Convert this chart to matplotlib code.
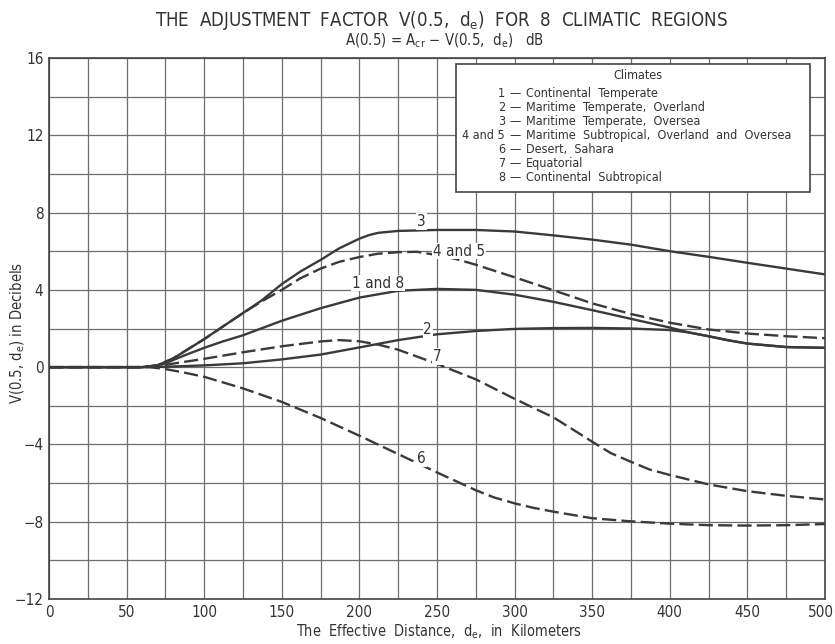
import matplotlib
matplotlib.use("Agg")
import matplotlib.pyplot as plt
import matplotlib.transforms as mtrans
from matplotlib import font_manager

# pick a condensed sans face if one is installed
cands = []
for f in font_manager.fontManager.ttflist:
    st = str(f.stretch).lower()
    fn = f.fname.lower()
    if f.style == 'normal' and f.weight in (400, 'normal', 'regular') and (
            'condensed' in st or 'narrow' in fn or 'condensed' in fn):
        cands.append(f)
FONT = "DejaVu Sans"
STRETCH = "normal"
pref = ["Liberation Sans Narrow", "DejaVu Sans", "Roboto Condensed", "Open Sans Condensed",
        "Noto Sans", "Open Sans", "Roboto"]
for p in pref:
    hit = [f for f in cands if f.name == p]
    if hit:
        FONT = p
        STRETCH = "condensed" if 'condensed' in str(hit[0].stretch).lower() else "normal"
        break
plt.rcParams['font.family'] = [FONT, 'DejaVu Sans']
plt.rcParams['font.stretch'] = STRETCH
plt.rcParams['mathtext.fontset'] = 'custom'
plt.rcParams['mathtext.rm'] = FONT
plt.rcParams['mathtext.it'] = FONT

# ---------------- data ----------------
x_c3 = [0, 50, 60, 70, 80, 90, 100, 112, 125, 137, 150, 162, 175, 187, 200, 206, 212, 225, 250, 275, 300, 325, 350, 375, 400, 425, 450, 475, 500]
v_c3 = [0, 0, 0, 0.1, 0.45, 0.95, 1.45, 2.1, 2.8, 3.45, 4.3, 4.95, 5.55, 6.15, 6.65, 6.83, 6.95, 7.05, 7.1, 7.1, 7.02, 6.82, 6.6, 6.34, 6.0, 5.71, 5.4, 5.1, 4.8]

x_c45 = [0, 50, 60, 70, 80, 90, 100, 112, 125, 137, 150, 162, 175, 187, 200, 212, 225, 237, 250, 262, 275, 300, 325, 350, 375, 400, 425, 450, 475, 500]
v_c45 = [0, 0, 0, 0.1, 0.45, 0.95, 1.45, 2.1, 2.8, 3.4, 4.0, 4.6, 5.1, 5.45, 5.7, 5.87, 5.95, 5.97, 5.8, 5.6, 5.3, 4.65, 3.98, 3.3, 2.75, 2.3, 1.95, 1.74, 1.6, 1.5]

x_c18 = [0, 50, 60, 70, 75, 87, 100, 112, 125, 150, 175, 200, 225, 250, 275, 300, 325, 350, 375, 400, 412, 425, 437, 450, 475, 500]
v_c18 = [0, 0, 0, 0.08, 0.2, 0.6, 1.0, 1.33, 1.65, 2.4, 3.05, 3.6, 3.95, 4.05, 4.0, 3.75, 3.38, 2.95, 2.5, 2.05, 1.8, 1.6, 1.4, 1.22, 1.04, 1.0]

x_c2 = [0, 50, 60, 75, 100, 125, 150, 175, 200, 225, 250, 275, 300, 325, 350, 375, 400, 412, 425, 437, 450, 475, 500]
v_c2 = [0, 0, 0, 0.02, 0.09, 0.2, 0.4, 0.65, 1.02, 1.4, 1.7, 1.87, 1.98, 2.02, 2.03, 2.0, 1.92, 1.8, 1.6, 1.4, 1.22, 1.04, 1.0]

x_c7 = [0, 50, 60, 70, 75, 87, 100, 125, 150, 175, 187, 200, 213, 225, 237, 250, 262, 275, 300, 325, 337, 350, 362, 375, 387, 400, 425, 450, 475, 500]
v_c7 = [0, 0, 0, 0.05, 0.12, 0.27, 0.43, 0.77, 1.08, 1.33, 1.4, 1.34, 1.15, 0.9, 0.55, 0.17, -0.22, -0.63, -1.64, -2.6, -3.2, -3.86, -4.45, -4.9, -5.3, -5.58, -6.07, -6.42, -6.66, -6.85]

x_c6 = [0, 50, 65, 75, 87, 100, 125, 150, 175, 200, 225, 250, 275, 287, 300, 312, 325, 350, 375, 400, 425, 450, 475, 500]
v_c6 = [0, 0, 0, -0.1, -0.28, -0.5, -1.1, -1.8, -2.63, -3.55, -4.5, -5.45, -6.37, -6.75, -7.05, -7.28, -7.48, -7.82, -7.98, -8.1, -8.18, -8.2, -8.18, -8.12]

x_ticks = [0, 50, 100, 150, 200, 250, 300, 350, 400, 450, 500]
y_ticks = [-12, -8, -4, 0, 4, 8, 12, 16]

legend_nums = ["1", "2", "3", "4 and 5", "6", "7", "8"]
legend_names = ["Continental  Temperate",
                "Maritime  Temperate,  Overland",
                "Maritime  Temperate,  Oversea",
                "Maritime  Subtropical,  Overland  and  Oversea",
                "Desert,  Sahara",
                "Equatorial",
                "Continental  Subtropical"]

curve_labels = ["3", "4 and 5", "1 and 8", "2", "7", "6"]

# ---------------- figure ----------------
fig = plt.figure(figsize=(8.35, 6.44), dpi=100)
ax = fig.add_axes([49/835, 1-599/644, 776/835, 541/644])
ax.set_xlim(0, 500)
ax.set_ylim(-12, 16)

ink = "#3a3a3a"
txt = "#333333"
gridc = "#6e6e6e"

ax.set_xticks(x_ticks)
ax.set_yticks(y_ticks)
ax.set_xticks(range(0, 501, 25), minor=True)
ax.set_yticks(range(-12, 17, 2), minor=True)
ax.grid(which='both', color=gridc, linewidth=0.9)
ax.set_axisbelow(True)
ax.tick_params(which='both', length=0, labelsize=11, colors=txt, pad=4)
for s in ax.spines.values():
    s.set_color("#444444")
    s.set_linewidth(1.2)

lw = 1.7
dash = (6, 2.2)
ax.plot(x_c3, v_c3, color=ink, lw=lw)
ax.plot(x_c45, v_c45, color=ink, lw=lw, dashes=dash)
ax.plot(x_c18, v_c18, color=ink, lw=lw)
ax.plot(x_c2, v_c2, color=ink, lw=lw)
ax.plot(x_c7, v_c7, color=ink, lw=lw, dashes=dash)
ax.plot(x_c6, v_c6, color=ink, lw=lw, dashes=dash)

# curve labels
lab_pos = [(240, 7.55), (264, 6.0), (212, 4.35), (244, 1.95), (250, 0.55), (240, -4.75)]
for t, (lx, ly) in zip(curve_labels, lab_pos):
    ax.text(lx, ly, t, fontsize=11, color=txt, ha='center', va='center',
            bbox=dict(facecolor='white', edgecolor='none', pad=0.6))

# legend box
ax.add_patch(plt.Rectangle((262.2, 9.04), 228.1, 6.65, facecolor='white',
                           edgecolor="#444444", linewidth=1.2, zorder=3))
t_clim = ax.text(379.5, 15.07, "Climates", fontsize=9.5, ha='center', va='center', zorder=4, color=txt)
row_y = [14.18, 13.45, 12.72, 11.98, 11.25, 10.52, 9.79]
leg_texts = []
for n, name, yy in zip(legend_nums, legend_names, row_y):
    a = ax.text(293.8, yy, n, fontsize=9.5, ha='right', va='center', zorder=4, color=txt)
    b = ax.text(300.0, yy, "\u2014", fontsize=9.5, ha='center', va='center', zorder=4, color=txt)
    c = ax.text(307.3, yy, name, fontsize=9.5, ha='left', va='center', zorder=4, color=txt)
    leg_texts.append((a, b, c))

# titles
t1 = fig.text(442/835, 1-20/644, r"THE  ADJUSTMENT  FACTOR  V(0.5,  d$_\mathrm{e}$)  FOR  8  CLIMATIC  REGIONS",
              ha='center', va='center', fontsize=14, color=txt)
t2 = fig.text(445/835, 1-41/644, r"A(0.5) = A$_\mathrm{cr}$ $-$ V(0.5,  d$_\mathrm{e}$)   dB",
              ha='center', va='center', fontsize=10.5, color=txt)

xl = fig.text(439/835, 1-632/644, r"The  Effective  Distance,  d$_\mathrm{e}$,  in  Kilometers",
              ha='center', va='center', fontsize=11, color=txt)
yl = fig.text(18/835, 1-333/644, r"V(0.5, d$_\mathrm{e}$) in Decibels",
              ha='center', va='center', rotation=90, fontsize=11, color=txt)

# keep the last x tick label inside the canvas
fig.canvas.draw()
labs = ax.get_xticklabels()
if labs:
    last = labs[-1]
    last.set_horizontalalignment('right')
    last.set_transform(last.get_transform() + mtrans.ScaledTranslation(9/100, 0, fig.dpi_scale_trans))

# scale font sizes so text widths match the reference
fig.canvas.draw()
r = fig.canvas.get_renderer()

def fit(t, target, horiz=True):
    bb = t.get_window_extent(r)
    w = bb.width if horiz else bb.height
    if w > 0:
        t.set_fontsize(t.get_fontsize() * target / w)

fit(t1, 575)
fit(t2, 200)
fit(xl, 286)
fit(yl, 142, horiz=False)
# legend rows: the long row spans ~330 px from number start to text end
a, b, c = leg_texts[3]
span = c.get_window_extent(r).x1 - a.get_window_extent(r).x0
scale = 330 / span
for trip in leg_texts:
    for t in trip:
        t.set_fontsize(t.get_fontsize() * scale)
t_clim.set_fontsize(t_clim.get_fontsize() * scale)

fig.savefig("out.png", dpi=100, facecolor='white')
